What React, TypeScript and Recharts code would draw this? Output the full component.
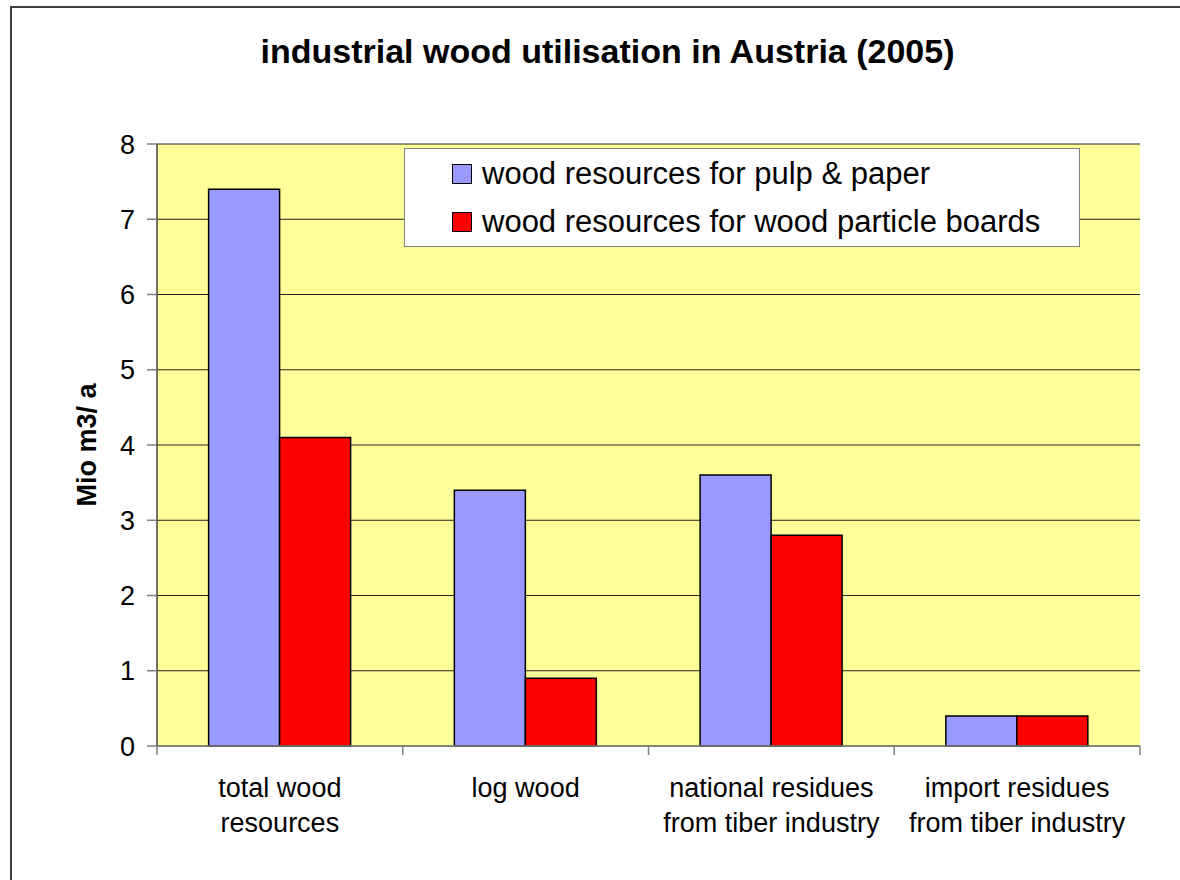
import React from 'react'
import { BarChart, Bar, XAxis, YAxis, CartesianGrid, Legend } from 'recharts'

const CATEGORIES = [
  'total wood\nresources',
  'log wood',
  'national residues\nfrom tiber industry',
  'import residues\nfrom tiber industry',
]
const PULP_PAPER = [7.4, 3.4, 3.6, 0.4]
const PARTICLE_BOARDS = [4.1, 0.9, 2.8, 0.4]
const Y_TICKS = [0, 1, 2, 3, 4, 5, 6, 7, 8]

const data = CATEGORIES.map((name, i) => ({
  name,
  pulp: PULP_PAPER[i],
  boards: PARTICLE_BOARDS[i],
}))

const FONT = 'Arial, "Liberation Sans", Helvetica, sans-serif'

function CategoryTick(props: any) {
  const { x, y, payload, index, visibleTicksCount } = props
  const half = payload.offset ?? 0
  const lines = String(payload.value).split('\n')
  const isLast = index === visibleTicksCount - 1
  return (
    <g>
      <line x1={x - half} x2={x - half} y1={y - 8} y2={y + 1} stroke="#808080" strokeWidth={1.5} />
      {isLast && (
        <line x1={x + half} x2={x + half} y1={y - 8} y2={y + 1} stroke="#808080" strokeWidth={1.5} />
      )}
      <text x={x} y={y + 43} textAnchor="middle" fontSize={27} fontFamily={FONT} fill="#000">
        {lines.map((l, i) => (
          <tspan key={i} x={x} dy={i === 0 ? 0 : 35}>
            {l}
          </tspan>
        ))}
      </text>
    </g>
  )
}

function LegendBox(props: any) {
  const { payload } = props
  return (
    <div
      style={{
        width: 676,
        height: 99,
        boxSizing: 'border-box',
        background: '#fff',
        border: '1.5px solid #808080',
        paddingLeft: 47,
        paddingTop: 1,
        fontFamily: FONT,
        fontSize: 31,
        color: '#000',
        textAlign: 'left',
      }}
    >
      {payload.map((p: any) => (
        <div key={p.value} style={{ display: 'flex', alignItems: 'center', height: 48 }}>
          <span
            style={{
              display: 'inline-block',
              width: 18,
              height: 18,
              background: p.color,
              border: '1.5px solid #000',
              marginRight: 10,
            }}
          />
          <span>{p.value}</span>
        </div>
      ))}
    </div>
  )
}

export default function App() {
  return (
    <div
      style={{
        position: 'absolute',
        left: 0,
        top: 0,
        width: 1180,
        height: 880,
        overflow: 'hidden',
        background: '#fff',
      }}
    >
      <div
        style={{
          position: 'absolute',
          left: 10,
          top: 6,
          width: 1300,
          height: 1000,
          border: '2px solid #404040',
        }}
      />
      <div
        style={{
          position: 'absolute',
          left: 0,
          top: 32,
          width: 1215,
          textAlign: 'center',
          fontFamily: FONT,
          fontWeight: 'bold',
          fontSize: 34,
          color: '#000',
        }}
      >
        industrial wood utilisation in Austria (2005)
      </div>
      <div style={{ position: 'absolute', left: 0, top: 0 }}>
        <BarChart
          width={1180}
          height={880}
          data={data}
          margin={{ top: 144, right: 40, bottom: 64, left: 97 }}
          barCategoryGap="21%"
          barGap={0}
        >
          <CartesianGrid vertical={false} fill="#FFFF99" stroke="#222" strokeWidth={1} />
          <XAxis
            dataKey="name"
            interval={0}
            height={70}
            axisLine={{ stroke: '#808080', strokeWidth: 1.5 }}
            tickLine={false}
            tick={<CategoryTick />}
          />
          <XAxis xAxisId="top" orientation="top" height={0} tick={false} axisLine={{ stroke: '#808080', strokeWidth: 1.5 }} />
          <YAxis
            width={60}
            domain={[0, 8]}
            ticks={Y_TICKS}
            interval={0}
            tickSize={10}
            tickMargin={12}
            axisLine={{ stroke: '#404040', strokeWidth: 1.5 }}
            tickLine={{ stroke: '#808080', strokeWidth: 1.5 }}
            tick={{ fill: '#000', fontSize: 27, fontFamily: FONT }}
            label={{
              content: (p: any) => {
                const vb = p.viewBox
                const cx = vb.x - 10
                const cy = vb.y + vb.height / 2
                return (
                  <text
                    x={cx}
                    y={cy}
                    transform={`rotate(-90 ${cx} ${cy})`}
                    textAnchor="middle"
                    dominantBaseline="central"
                    fontSize={27}
                    fontWeight="bold"
                    fontFamily={FONT}
                    fill="#000"
                  >
                    Mio m3/ a
                  </text>
                )
              },
            }}
          />
          <YAxis yAxisId="right" orientation="right" width={0} tick={false} domain={[0, 8]} axisLine={{ stroke: '#a0a0a0', strokeWidth: 1.5 }} />
          <Legend
            layout="vertical"
            align="center"
            verticalAlign="middle"
            wrapperStyle={{ position: 'absolute', left: 404, top: 148, width: 676 }}
            content={<LegendBox />}
          />
          <Bar
            dataKey="pulp"
            name="wood resources for pulp & paper"
            fill="#9999FF"
            stroke="#000"
            strokeWidth={1.5}
            isAnimationActive={false}
          />
          <Bar
            dataKey="boards"
            name="wood resources for wood particle boards"
            fill="#FF0000"
            stroke="#000"
            strokeWidth={1.5}
            isAnimationActive={false}
          />
        </BarChart>
      </div>
    </div>
  )
}
